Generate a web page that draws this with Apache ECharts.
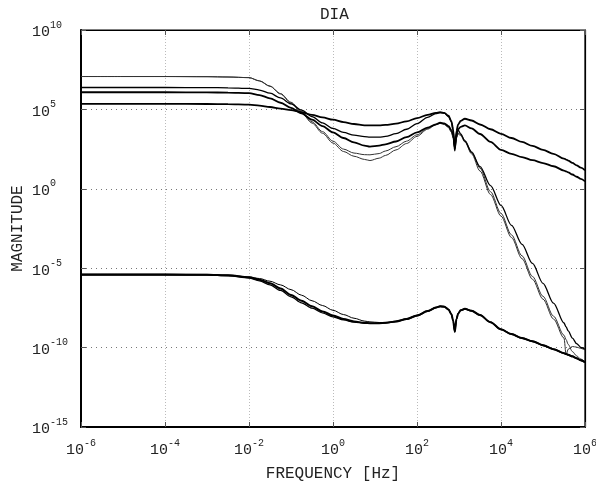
<!DOCTYPE html>
<html>
<head>
<meta charset="utf-8">
<script src="https://cdn.jsdelivr.net/npm/echarts@6/dist/echarts.min.js"></script>
<style>html,body{margin:0;padding:0;background:#fff;overflow:hidden;}#c{width:596px;height:484px;}</style>
</head>
<body>
<div id="c"></div>
<script>
// log10 of frequency [Hz]
var logFreq = [-6,-5,-4,-3,-2.5,-2,-1.75,-1.5,-1.25,-1,-0.75,-0.5,-0.25,0,0.25,0.5,0.75,0.88,1.1,1.25,1.5,1.75,2,2.25,2.45,2.55,2.65,2.75,2.82,2.86,2.9,2.94,2.98,3.04,3.14,3.3,3.5,3.75,4,4.25,4.5,4.75,5,5.25,5.5,5.55,5.6,5.7,5.8,5.9,6];

// log10 of magnitude, upper group
var magU1 = [7.07,7.07,7.07,7.06,7.04,7.0,6.79,6.45,5.97,5.4,4.78,4.14,3.5,2.88,2.35,2.05,1.85,1.78,1.93,2.1,2.45,2.85,3.3,3.75,4.03,4.12,4.05,3.85,3.55,3.2,2.7,3.2,3.45,3.35,2.95,2.2,1.12,-0.36,-1.72,-3.07,-4.4,-5.7,-6.95,-8.2,-9.4,-10.45,-10.1,-9.93,-9.97,-10.05,-10.15];
var magU2 = [7.07,7.07,7.07,7.06,7.04,7.0,6.8,6.47,6.0,5.45,4.85,4.22,3.6,3.0,2.5,2.25,2.15,2.14,2.22,2.38,2.65,3.0,3.4,3.8,4.05,4.14,4.08,3.9,3.6,3.25,2.75,3.25,3.5,3.42,3.05,2.35,1.3,-0.18,-1.55,-2.9,-4.22,-5.52,-6.77,-8.02,-9.22,-9.5,-9.8,-10.25,-10.52,-10.72,-10.9];
var magU3 = [6.08,6.08,6.08,6.07,6.06,6.03,5.9,5.7,5.42,5.1,4.75,4.35,3.95,3.55,3.2,2.92,2.72,2.66,2.72,2.8,2.98,3.25,3.55,3.85,4.06,4.16,4.12,3.95,3.7,3.4,2.6,3.35,3.75,3.9,3.99,3.8,3.45,2.95,2.45,2.2,2.0,1.8,1.62,1.42,1.15,1.1,1.03,0.9,0.76,0.62,0.47];
var magU4 = [6.38,6.38,6.38,6.37,6.36,6.32,6.22,6.02,5.72,5.35,4.95,4.55,4.15,3.8,3.55,3.38,3.29,3.26,3.25,3.3,3.47,3.75,4.1,4.5,4.74,4.8,4.76,4.55,4.2,3.7,2.5,3.5,3.7,3.45,3.0,2.3,1.4,0.2,-1.05,-2.3,-3.5,-4.7,-5.95,-7.2,-8.45,-8.7,-8.95,-9.4,-9.75,-9.98,-10.1];
var magU5 = [5.35,5.35,5.35,5.34,5.33,5.3,5.24,5.15,5.05,4.95,4.82,4.66,4.5,4.35,4.2,4.08,4.0,3.99,3.99,4.02,4.1,4.25,4.45,4.65,4.78,4.82,4.78,4.6,4.25,3.75,2.4,3.65,4.05,4.28,4.41,4.3,4.05,3.75,3.46,3.2,2.95,2.7,2.45,2.2,1.9,1.84,1.78,1.63,1.48,1.33,1.17];

// log10 of magnitude, lower group
var magLA = [-5.38,-5.38,-5.38,-5.39,-5.43,-5.55,-5.65,-5.82,-6.05,-6.35,-6.7,-7.05,-7.35,-7.65,-7.92,-8.15,-8.33,-8.38,-8.42,-8.42,-8.33,-8.18,-7.96,-7.68,-7.46,-7.38,-7.4,-7.58,-7.88,-8.28,-8.98,-8.18,-7.83,-7.63,-7.54,-7.66,-7.93,-8.38,-8.83,-9.13,-9.38,-9.58,-9.83,-10.08,-10.33,-10.38,-10.43,-10.53,-10.65,-10.78,-10.9];
var magLB = [-5.40,-5.40,-5.40,-5.41,-5.45,-5.57,-5.72,-5.95,-6.28,-6.68,-7.05,-7.4,-7.72,-7.98,-8.2,-8.35,-8.44,-8.46,-8.46,-8.44,-8.35,-8.2,-7.98,-7.7,-7.48,-7.4,-7.42,-7.6,-7.9,-8.3,-9.0,-8.2,-7.85,-7.65,-7.56,-7.68,-7.95,-8.4,-8.85,-9.15,-9.4,-9.6,-9.85,-10.1,-10.35,-10.4,-10.45,-10.55,-10.67,-10.8,-10.92];
var magLC = [-5.43,-5.43,-5.43,-5.44,-5.48,-5.62,-5.8,-6.05,-6.4,-6.8,-7.18,-7.52,-7.82,-8.06,-8.26,-8.4,-8.47,-8.48,-8.47,-8.46,-8.37,-8.22,-8.0,-7.72,-7.5,-7.42,-7.44,-7.62,-7.92,-8.32,-9.02,-8.22,-7.87,-7.67,-7.58,-7.7,-7.97,-8.42,-8.87,-9.17,-9.42,-9.62,-9.87,-10.12,-10.37,-10.42,-10.47,-10.57,-10.69,-10.82,-10.94];

var xTicks = [-6,-4,-2,0,2,4,6];
var yTicks = [-15,-10,-5,0,5,10];

var MONO = "'Liberation Mono', 'DejaVu Sans Mono', monospace";
function pairs(m){ return logFreq.map(function(f,i){ return [f, m[i]]; }); }
function mk(name, m, w, c){
  return {name:name, type:'line', data:pairs(m), showSymbol:false, smooth:0.3, smoothMonotone:'x',
    lineStyle:{color:c, width:w}, z:3, silent:true, animation:false};
}
var rich = {
  b:{fontFamily:MONO, fontSize:15, color:'#222', lineHeight:20, verticalAlign:'bottom'},
  e:{fontFamily:MONO, fontSize:10, color:'#222', lineHeight:20, verticalAlign:'top'}
};
function fmt(v){ return '{b|10}{e|' + v + '}'; }

var chart = echarts.init(document.getElementById('c'), null, {renderer:'canvas', width:596, height:484});
chart.setOption({
  animation:false,
  backgroundColor:'#fff',
  title:{text:'DIA', left:315, top:2,
    textStyle:{fontFamily:MONO, fontSize:16, fontWeight:'normal', color:'#222'}},
  grid:{left:81, right:11, top:30, bottom:57, show:true, borderColor:'#000', borderWidth:1.2,
    containLabel:false, outerBoundsMode:'none'},
  xAxis:[{
    type:'value', min:-6, max:6, interval:2, position:'bottom',
    name:'FREQUENCY [Hz]', nameLocation:'middle', nameGap:39, nameMoveOverlap:false,
    nameTextStyle:{fontFamily:MONO, fontSize:16, color:'#222'},
    axisLine:{show:true, onZero:false, lineStyle:{color:'#000', width:2}},
    axisTick:{show:true, inside:true, length:5, lineStyle:{color:'#555'}},
    axisLabel:{formatter:fmt, rich:rich, margin:11, showMaxLabel:true, showMinLabel:true, hideOverlap:false},
    splitLine:{show:true, lineStyle:{color:'#bbb', type:[1,2], width:1}}
  },{
    type:'value', min:-6, max:6, interval:2, position:'top',
    axisLine:{show:true, onZero:false, lineStyle:{color:'#000', width:1.2}},
    axisTick:{show:true, inside:true, length:5, lineStyle:{color:'#555'}},
    axisLabel:{show:false}, splitLine:{show:false}
  }],
  yAxis:[{
    type:'value', min:-15, max:10, interval:5, position:'left',
    name:'MAGNITUDE', nameLocation:'middle', nameGap:55, nameRotate:90, nameMoveOverlap:false,
    nameTextStyle:{fontFamily:MONO, fontSize:16, color:'#222'},
    axisLine:{show:true, onZero:false, lineStyle:{color:'#000', width:2}},
    axisTick:{show:true, inside:true, length:5, lineStyle:{color:'#555'}},
    axisLabel:{formatter:fmt, rich:rich, margin:49, align:'left', hideOverlap:false},
    splitLine:{show:true, lineStyle:{color:'#777', type:[1,4], width:1}}
  },{
    type:'value', min:-15, max:10, interval:5, position:'right',
    axisLine:{show:true, onZero:false, lineStyle:{color:'#000', width:1.2}},
    axisTick:{show:true, inside:true, length:5, lineStyle:{color:'#555'}},
    axisLabel:{show:false}, splitLine:{show:false}
  }],
  series:[
    mk('U1', magU1, 1, '#333'),
    mk('U2', magU2, 1, '#333'),
    mk('U3', magU3, 1.8, '#000'),
    mk('U4', magU4, 1.3, '#000'),
    mk('U5', magU5, 1.8, '#000'),
    mk('LA', magLA, 1, '#000'),
    mk('LB', magLB, 2, '#000'),
    mk('LC', magLC, 1.2, '#000')
  ]
});
</script>
</body>
</html>
